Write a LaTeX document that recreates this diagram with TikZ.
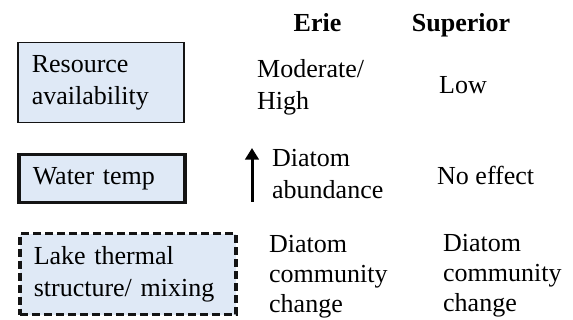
\documentclass[tikz,border=0pt]{standalone}
\usepackage{fontspec}
\setmainfont{Liberation Serif}
\usetikzlibrary{arrows.meta, positioning}
\definecolor{boxblue}{RGB}{223,233,246}
\definecolor{edgeblack}{RGB}{20,20,20}

\begin{document}
\begin{tikzpicture}[
    x=1pt, y=-1pt,
    >=Triangle,
    driver/.style={draw=edgeblack, fill=boxblue, align=left, inner xsep=14pt, inner ysep=0pt, anchor=north west},
    cell/.style={align=left, inner sep=0pt, anchor=west},
    tightcell/.style={cell, font=\fontsize{26}{30}\selectfont},
    lakehead/.style={font=\bfseries, inner sep=0pt, anchor=base},
    upmark/.style={->, line width=3pt},
]
\fontsize{26}{32}\selectfont
\useasboundingbox (0,0) rectangle (573,320);

% === ENCABEZADOS ===
\node[lakehead] (erie) at (317.5,32) {Erie};
\node[lakehead] (superior) at (461,32) {Superior};

% === FACTORES (cajas) ===
\node[driver, line width=1.5pt, text width=138pt, minimum height=80pt] (resource) at (17,42) {Resource\\availability};
\node[driver, line width=3.5pt, text width=138pt, minimum height=48pt] (watertemp) at (17,153) {Water temp};
\node[driver, line width=3.5pt, dash pattern=on 8pt off 4pt, text width=188pt, minimum height=81pt] (thermal) at (18,232) {Lake thermal\\structure/ mixing};

% === COLUMNA ERIE ===
\node[cell] (erieres) at (257,87) {Moderate/\\High};
\node[cell] (erietemp) at (272,174) {Diatom\\abundance};
\node[tightcell] (eriemix) at (269,277) {Diatom\\community\\change};

% Flecha de aumento
\coordinate (upfoot) at (252,202);
\coordinate (uptip) at (252,148);
\draw[upmark] (upfoot) -- (uptip);

% === COLUMNA SUPERIOR ===
\node[cell] (supres) at (439,85) {Low};
\node[cell] (suptemp) at (437,175) {No effect};
\node[tightcell] (supmix) at (443,276) {Diatom\\community\\change};

\end{tikzpicture}
\end{document}
